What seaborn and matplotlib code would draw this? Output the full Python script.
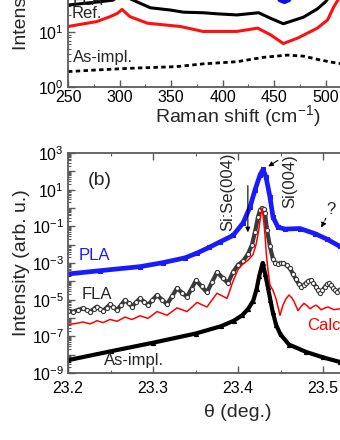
import numpy as np
import pandas as pd
import matplotlib
matplotlib.use("Agg")
import matplotlib.pyplot as plt
import seaborn as sns
from matplotlib.ticker import LogLocator, FuncFormatter, MultipleLocator, NullFormatter

# ---------------- data: Raman (top panel), intensity given as log10 ----------------
ram_fla_shift = [250, 281, 294, 300.5, 313, 330, 349, 362, 381, 395, 414, 435, 446.5, 459, 478.6, 492, 500, 505, 515, 520, 525, 540, 580]
ram_fla_log = [1.49, 1.55, 1.58, 1.69, 1.58, 1.44, 1.40, 1.36, 1.35, 1.33, 1.31, 1.35, 1.25, 1.15, 1.27, 1.42, 1.55, 1.67, 2.2, 3.3, 2.5, 1.8, 1.5]

ram_ref_shift = [250, 278, 291, 298, 302.5, 310, 327, 359, 381, 414, 434, 446.5, 459, 473, 492, 502, 508, 512, 516, 520, 525, 540, 580]
ram_ref_log = [1.10, 1.19, 1.28, 1.34, 1.41, 1.28, 1.16, 1.10, 1.01, 1.01, 1.07, 0.95, 0.79, 0.89, 1.07, 1.22, 1.46, 1.58, 2.0, 3.0, 2.2, 1.5, 1.2]

ram_pla_shift = [250, 300, 350, 400, 435, 450, 455.5, 460, 464.5, 470, 500, 520, 540, 580]
ram_pla_log = [2.3, 2.6, 2.2, 2.1, 2.1, 1.8, 1.58, 1.545, 1.58, 1.75, 2.2, 3.6, 2.5, 2.2]

ram_asi_shift = [250, 278, 310, 355, 381, 414, 440, 463, 479, 495, 512, 540, 580]
ram_asi_log = [0.28, 0.31, 0.34, 0.37, 0.42, 0.46, 0.54, 0.58, 0.56, 0.49, 0.43, 0.38, 0.35]

# ---------------- data: XRD (bottom panel), intensity given as log10 ----------------
pla_theta = [23.2000, 23.2376, 23.2847, 23.3118, 23.3376, 23.3518, 23.3659, 23.3788, 23.3941, 23.4059,
             23.4141, 23.4200, 23.4259, 23.4294, 23.4329, 23.4376, 23.4412, 23.4471, 23.4553, 23.4729,
             23.4906, 23.5047, 23.5200, 23.5300]
pla_log = [-3.60, -3.42, -3.20, -2.98, -2.72, -2.46, -2.15, -1.85, -1.50, -0.82,
           0.05, 0.98, 1.80, 2.10, 1.70, 0.60, -0.50, -1.05, -1.15, -1.12,
           -1.40, -1.70, -2.10, -2.35]

fla_theta = [23.2000, 23.2059, 23.2118, 23.2176, 23.2218, 23.2259, 23.2300, 23.2341, 23.2376, 23.2412,
             23.2453, 23.2494, 23.2535, 23.2576, 23.2624, 23.2671, 23.2712, 23.2753, 23.2800, 23.2847,
             23.2894, 23.2941, 23.2994, 23.3047, 23.3106, 23.3165, 23.3224, 23.3282, 23.3341, 23.3400,
             23.3453, 23.3506, 23.3571, 23.3635, 23.3694, 23.3753, 23.3818, 23.3882, 23.3941, 23.4000,
             23.4059, 23.4118, 23.4165, 23.4200, 23.4235, 23.4259, 23.4282, 23.4300, 23.4318, 23.4341,
             23.4376, 23.4412, 23.4441, 23.4471, 23.4500, 23.4529, 23.4571, 23.4612, 23.4647, 23.4682,
             23.4712, 23.4741, 23.4771, 23.4800, 23.4829, 23.4859, 23.4888, 23.4918, 23.4941, 23.4965,
             23.4994, 23.5024, 23.5047, 23.5071, 23.5094, 23.5118, 23.5141, 23.5165, 23.5200, 23.5260]
fla_log = [-5.62, -5.66, -5.56, -5.47, -5.56, -5.66, -5.52, -5.38, -5.50, -5.62,
           -5.44, -5.26, -5.41, -5.57, -5.30, -5.02, -5.20, -5.38, -5.15, -4.93,
           -5.11, -5.29, -5.02, -4.75, -5.00, -5.25, -4.82, -4.38, -4.62, -4.85,
           -4.40, -3.95, -4.28, -4.60, -4.05, -3.50, -3.80, -4.10, -3.50, -3.10,
           -2.90, -2.50, -2.00, -1.30, -0.50, -0.12, 0.00, -0.08, -0.30, -1.20,
           -2.10, -2.80, -3.00, -3.05, -3.00, -3.00, -3.12, -3.30, -3.60, -3.90,
           -4.12, -4.30, -4.22, -4.10, -3.98, -3.93, -4.10, -4.30, -4.50, -4.65,
           -4.48, -4.30, -4.17, -4.10, -4.20, -4.35, -4.50, -4.60, -4.45, -4.30]

calc_theta = [23.2000, 23.2094, 23.2176, 23.2218, 23.2259, 23.2300, 23.2341, 23.2376, 23.2412, 23.2453,
              23.2494, 23.2535, 23.2576, 23.2624, 23.2671, 23.2712, 23.2753, 23.2800, 23.2847, 23.2894,
              23.2941, 23.2994, 23.3047, 23.3106, 23.3165, 23.3224, 23.3282, 23.3341, 23.3400, 23.3459,
              23.3518, 23.3576, 23.3635, 23.3694, 23.3753, 23.3812, 23.3871, 23.3941, 23.4000, 23.4059,
              23.4118, 23.4176, 23.4212, 23.4241, 23.4265, 23.4282, 23.4300, 23.4318, 23.4335, 23.4353,
              23.4376, 23.4412, 23.4447, 23.4471, 23.4494, 23.4529, 23.4565, 23.4600, 23.4630, 23.4659,
              23.4706, 23.4741, 23.4776, 23.4812, 23.4847, 23.4882, 23.4918, 23.4947, 23.4976, 23.5018,
              23.5059, 23.5094, 23.5129, 23.5165, 23.5200, 23.5280]
calc_log = [-6.35, -6.30, -6.22, -6.27, -6.32, -6.24, -6.15, -6.20, -6.25, -6.17,
            -6.08, -6.13, -6.18, -6.07, -5.95, -6.02, -6.08, -5.98, -5.88, -5.95,
            -6.02, -5.84, -5.65, -5.75, -5.85, -5.65, -5.45, -5.55, -5.65, -5.40,
            -5.15, -5.28, -5.40, -5.02, -4.65, -4.79, -4.93, -4.00, -3.35, -3.05,
            -2.85, -2.55, -2.00, -1.30, -0.50, 0.00, -0.60, -1.50, -2.60, -3.40,
            -4.20, -4.50, -4.95, -5.40, -5.85, -5.30, -4.95, -4.75, -4.88, -5.10,
            -5.60, -5.38, -5.20, -5.33, -5.50, -5.38, -5.30, -5.40, -5.55, -5.46,
            -5.40, -5.47, -5.55, -5.52, -5.50, -5.60]

asi_theta = [23.2000, 23.2500, 23.3000, 23.3500, 23.3800, 23.3950, 23.4050, 23.4120, 23.4180, 23.4220,
             23.4250, 23.4290, 23.4320, 23.4350, 23.4380, 23.4410, 23.4450, 23.4500, 23.4600, 23.4800,
             23.5000, 23.5200, 23.5300]
asi_log = [-8.30, -7.82, -7.35, -6.85, -6.45, -6.15, -5.85, -5.50, -5.05, -4.40,
           -3.70, -3.00, -3.60, -4.30, -5.00, -5.70, -6.40, -6.90, -7.45, -7.85,
           -8.15, -8.40, -8.50]

# ---------------- style ----------------
sns.set_style("ticks")
plt.rcParams["font.family"] = ["Liberation Sans", "DejaVu Sans"]
plt.rcParams["mathtext.fontset"] = "custom"
plt.rcParams["mathtext.rm"] = "Liberation Sans"
plt.rcParams["mathtext.it"] = "Liberation Sans:italic"
plt.rcParams["mathtext.default"] = "regular"

SPINE = "#5a5a5a"
TICK_FS = 11.5
LAB_FS = 14
ANN_FS = 12

fig = plt.figure(figsize=(3.4, 4.4), dpi=100)
ax_t = fig.add_axes([0.2, 0.8023, 1.0, 0.5])
ax_b = fig.add_axes([0.2, 0.1523, 1.0, 0.5])


def to_df(x, logy):
    return pd.DataFrame({"x": np.asarray(x, float), "y": np.power(10.0, np.asarray(logy, float))})


def style_axes(ax):
    for s in ax.spines.values():
        s.set_color(SPINE)
        s.set_linewidth(1.3)
    ax.tick_params(which="both", direction="in", top=True, right=True, color=SPINE,
                   labelsize=TICK_FS, labelcolor="black")
    ax.tick_params(which="major", length=5, width=1.0)
    ax.tick_params(which="minor", length=2.5, width=0.8)
    ax.tick_params(axis="y", pad=3)


def log_fmt(only_odd):
    def f(v, pos):
        e = int(round(np.log10(v)))
        if only_odd and e % 2 == 0:
            return ""
        return r"$10^{%d}$" % e
    return FuncFormatter(f)


# ---------------- top panel: Raman ----------------
d = to_df(ram_pla_shift, ram_pla_log)
sns.lineplot(data=d, x="x", y="y", ax=ax_t, color="#1010e0", lw=3, sort=False)
d = to_df(ram_fla_shift, ram_fla_log)
sns.lineplot(data=d, x="x", y="y", ax=ax_t, color="black", lw=2.2, sort=False)
d = to_df(ram_ref_shift, ram_ref_log)
sns.lineplot(data=d, x="x", y="y", ax=ax_t, color="#ff1010", lw=2.2, sort=False)
d = to_df(ram_asi_shift, ram_asi_log)
sns.lineplot(data=d, x="x", y="y", ax=ax_t, color="black", lw=2.0, sort=False,
             dashes=False, linestyle=(0, (1.6, 1.2)))

ax_t.set_yscale("log")
ax_t.set_xlim(250, 580)
ax_t.set_ylim(1, 1e4)
ax_t.xaxis.set_major_locator(MultipleLocator(50))
ax_t.xaxis.set_minor_locator(MultipleLocator(25))
ax_t.yaxis.set_major_locator(LogLocator(base=10, numticks=20))
ax_t.yaxis.set_minor_locator(LogLocator(base=10, subs=np.arange(2, 10), numticks=20))
ax_t.yaxis.set_major_formatter(log_fmt(False))
ax_t.yaxis.set_minor_formatter(NullFormatter())
style_axes(ax_t)
ax_t.tick_params(axis="x", pad=2)
ax_t.set_xlabel("Raman shift (cm$^{-1}$)", fontsize=LAB_FS)
ax_t.set_ylabel("Intensity (arb. u.)", fontsize=LAB_FS)
ax_t.xaxis.set_label_coords(0.5, -0.075)
ax_t.yaxis.set_label_coords(-0.112, 0.5)

ax_t.text(0.015, 0.373, "FLA", transform=ax_t.transAxes, fontsize=ANN_FS, ha="left", va="baseline")
ax_t.text(0.056, 0.332, "Ref.", transform=ax_t.transAxes, fontsize=ANN_FS, ha="center", va="center")
ax_t.text(0.103, 0.136, "As-impl.", transform=ax_t.transAxes, fontsize=ANN_FS, ha="center", va="center")

# ---------------- bottom panel: XRD ----------------
d = to_df(pla_theta, pla_log)
sns.lineplot(data=d, x="x", y="y", ax=ax_b, color="#1a1aff", lw=3.4, sort=False,
             marker="s", markersize=2.5, markeredgecolor="#1a1aff", markerfacecolor="#1a1aff")
d = to_df(fla_theta, fla_log)
sns.lineplot(data=d, x="x", y="y", ax=ax_b, color="#3a3a3a", lw=3.0, sort=False,
             marker="o", markersize=3.0, markeredgecolor="#3a3a3a", markerfacecolor="white",
             markeredgewidth=0.8)
d = to_df(calc_theta, calc_log)
sns.lineplot(data=d, x="x", y="y", ax=ax_b, color="#ff0000", lw=1.1, sort=False)
d = to_df(asi_theta, asi_log)
sns.lineplot(data=d, x="x", y="y", ax=ax_b, color="black", lw=3.0, sort=False,
             marker="^", markersize=3, markeredgecolor="black", markerfacecolor="black")

ax_b.set_yscale("log")
ax_b.set_xlim(23.2, 23.6)
ax_b.set_ylim(1e-9, 1e3)
ax_b.xaxis.set_major_locator(MultipleLocator(0.1))
ax_b.xaxis.set_minor_locator(MultipleLocator(0.05))
ax_b.xaxis.set_major_formatter(FuncFormatter(lambda v, p: "%.1f" % v))
ax_b.yaxis.set_major_locator(LogLocator(base=10, numticks=30))
ax_b.yaxis.set_minor_locator(LogLocator(base=10, subs=np.arange(2, 10), numticks=30))
ax_b.yaxis.set_major_formatter(log_fmt(True))
ax_b.yaxis.set_minor_formatter(NullFormatter())
style_axes(ax_b)
ax_b.tick_params(axis="x", pad=6)
ax_b.set_xlabel("θ (deg.)", fontsize=LAB_FS)
ax_b.set_ylabel("Intensity (arb. u.)", fontsize=LAB_FS)
ax_b.xaxis.set_label_coords(0.5, -0.14)
ax_b.yaxis.set_label_coords(-0.112, 0.5)

ax_b.text(0.094, 0.877, "(b)", transform=ax_b.transAxes, fontsize=LAB_FS, ha="center", va="center")
ax_b.text(0.079, 0.532, "PLA", transform=ax_b.transAxes, fontsize=ANN_FS, ha="center", va="center", color="#1a1aff")
ax_b.text(0.085, 0.359, "FLA", transform=ax_b.transAxes, fontsize=ANN_FS, ha="center", va="center")
ax_b.text(0.194, 0.055, "As-impl.", transform=ax_b.transAxes, fontsize=ANN_FS, ha="center", va="center")
ax_b.text(0.703, 0.214, "Calc.", transform=ax_b.transAxes, fontsize=ANN_FS, ha="left", va="center", color="#ff0000")
ax_b.text(0.47, 0.823, "Si:Se(004)", transform=ax_b.transAxes, fontsize=ANN_FS, ha="center", va="center", rotation=90)
ax_b.text(0.653, 0.873, "Si(004)", transform=ax_b.transAxes, fontsize=ANN_FS, ha="center", va="center", rotation=90)
ax_b.text(0.774, 0.745, "?", transform=ax_b.transAxes, fontsize=ANN_FS, ha="center", va="center")

ax_b.annotate("", xy=(0.529, 0.627), xytext=(0.529, 0.864), xycoords="axes fraction",
              arrowprops=dict(arrowstyle="-|>", color="black", lw=0.8, mutation_scale=7))
ax_b.annotate("", xy=(0.582, 0.932), xytext=(0.624, 0.973), xycoords="axes fraction",
              arrowprops=dict(arrowstyle="-|>", color="black", lw=0.8, mutation_scale=7))
ax_b.annotate("", xy=(0.741, 0.65), xytext=(0.762, 0.714), xycoords="axes fraction",
              arrowprops=dict(arrowstyle="-|>", color="black", lw=0.8, mutation_scale=7, linestyle=(0, (2, 1.5))))

fig.savefig("out.png", dpi=100)
